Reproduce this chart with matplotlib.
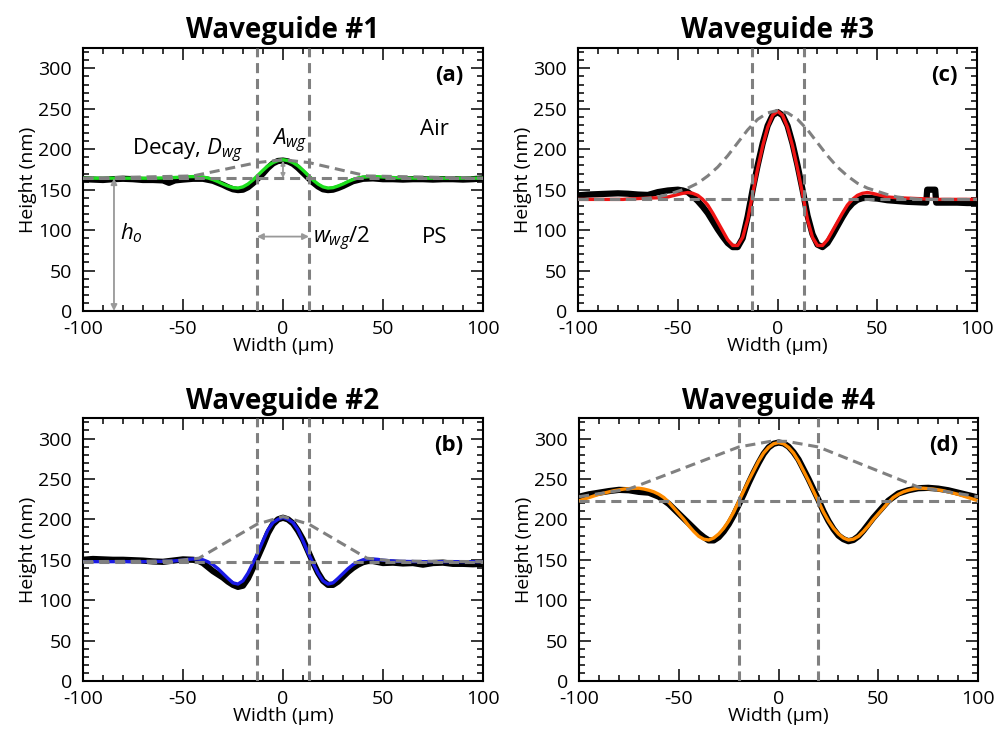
import numpy as np
import matplotlib.pyplot as plt
from matplotlib.ticker import MultipleLocator

plt.rcParams['font.family'] = ['Open Sans', 'DejaVu Sans']
plt.rcParams['mathtext.fontset'] = 'custom'
plt.rcParams['mathtext.rm'] = 'Open Sans'
plt.rcParams['mathtext.it'] = 'Open Sans:italic'
plt.rcParams['axes.unicode_minus'] = False

titles = ['Waveguide #1', 'Waveguide #2', 'Waveguide #3', 'Waveguide #4']
tags = ['(a)', '(b)', '(c)', '(d)']
fit_colors = ['#1ee01e', '#1a1ae6', '#f01414', '#ff8c00']

# flat film thickness h_o (nm) and half width w_wg/2 (um)
baseline = [164.2, 147.7, 138.0, 223.0]
half_width = [13, 13, 13, 20]

# fitted profiles, sampled every 2.5 um from -100 to 100
x_fit = np.linspace(-100, 100, 81)
fit_1 = [164.2] * 14 + [164.3, 164.4, 164.5, 164.7, 165.0, 165.3, 165.7, 166.0, 166.2, 166.0,
                        165.5, 164.5, 162.5, 160.0, 157.0, 154.5, 152.5, 152.0, 153.5, 157.0,
                        162.0, 168.0, 174.0, 179.5, 183.5, 186.0, 187.0, 186.0, 183.5, 179.5,
                        174.0, 168.0, 162.0, 157.0, 153.5, 152.0, 152.5, 154.5, 157.0, 160.0,
                        162.5, 164.5, 165.5, 166.0, 166.2, 166.0, 165.7, 165.3, 165.0, 164.7,
                        164.5, 164.4, 164.3] + [164.2] * 14
fit_2 = [147.7] * 14 + [147.8, 147.9, 148.0, 148.2, 148.5, 149.0, 149.5, 150.5, 151.0, 151.0,
                        150.0, 147.5, 144.0, 139.0, 133.0, 127.0, 121.5, 120.0, 124.0, 133.5,
                        146.0, 159.0, 173.5, 187.0, 196.0, 200.0, 202.5, 200.0, 196.0, 187.0,
                        173.5, 159.0, 146.0, 133.5, 124.0, 120.0, 121.5, 127.0, 133.0, 139.0,
                        144.0, 147.5, 150.0, 151.0, 151.0, 150.5, 149.5, 149.0, 148.5, 148.2,
                        148.0, 147.9, 147.8] + [147.7] * 14
fit_3 = [138.0] * 10 + [138.5, 138.8, 139.0, 139.3, 139.5, 139.8, 140.0, 140.5, 141.0, 142.5,
                        144.0, 145.5, 146.5, 145.5, 143.0, 138.0, 131.0, 121.0, 110.0, 99.0,
                        88.0, 81.0, 81.0, 91.0, 113.0, 145.0, 176.0, 204.0, 227.0, 242.0,
                        247.0, 242.0, 227.0, 204.0, 176.0, 145.0, 113.0, 91.0, 81.0, 81.0,
                        88.0, 99.0, 110.0, 121.0, 131.0, 138.0, 143.0, 145.5, 146.5, 145.5,
                        144.0, 142.5, 141.0, 140.5, 140.0, 139.8, 139.5, 139.3, 139.0, 138.8,
                        138.5] + [138.0] * 10
fit_4 = [223.0, 225.0, 227.0, 229.0, 231.0, 232.5, 234.0, 235.5, 236.5, 237.5,
         238.0, 238.5, 238.5, 237.5, 236.0, 234.0, 231.0, 227.0, 221.0, 214.0,
         207.0, 200.0, 192.0, 185.0, 179.0, 175.5, 174.5, 177.0, 182.0, 189.0,
         198.0, 209.0, 222.0, 235.0, 248.0, 260.0, 272.0, 282.0, 289.0, 293.5,
         295.0,
         293.5, 289.0, 282.0, 272.0, 260.0, 248.0, 235.0, 222.0, 209.0, 198.0,
         189.0, 182.0, 177.0, 174.5, 175.5, 179.0, 185.0, 192.0, 200.0, 207.0,
         214.0, 221.0, 227.0, 231.0, 234.0, 236.0, 237.5, 238.5, 238.5, 238.0,
         237.5, 236.5, 235.5, 234.0, 232.5, 231.0, 229.0, 227.0, 225.0, 223.0]
fits = [fit_1, fit_2, fit_3, fit_4]

# decay envelopes
env_x_1 = [-100, -45, -13, 0, 13, 42, 100]
env_y_1 = [164.2, 167.0, 183.5, 187.0, 183.5, 167.0, 164.2]
env_x_2 = [-100, -55, -42, -13, 0, 13, 42, 55, 100]
env_y_2 = [147.7, 148.5, 152.0, 194.0, 203.5, 194.0, 152.0, 148.5, 147.7]
env_x_3 = np.linspace(-100, 100, 41)
env_y_3 = [138.0] * 6 + [138.5, 139.5, 141.0, 144.0, 148.0, 152.0, 158.0, 167.0, 178.0, 192.0,
                         208.0, 224.0, 237.0, 245.0, 248.0, 245.0, 237.0, 224.0, 208.0, 192.0,
                         178.0, 167.0, 158.0, 152.0, 148.0, 144.0, 141.0, 139.5, 138.5] + [138.0] * 6
env_x_4 = [-100, -75, -20, -4, 4, 20, 70, 100]
env_y_4 = [228.0, 237.5, 289.5, 296.5, 296.5, 289.5, 240.0, 228.0]
envelopes = [(env_x_1, env_y_1), (env_x_2, env_y_2), (env_x_3, env_y_3), (env_x_4, env_y_4)]

# measured surface profiles
meas_x_1 = [-100, -95, -90, -85, -80, -75, -70, -65, -60, -57, -54, -50, -45, -40, -35, -30,
            -27.5, -25, -22.5, -20, -17.5, -15, -12.5, -10, -7.5, -5, -2.5, 0, 2.5, 5, 7.5,
            10, 12.5, 15, 17.5, 20, 22.5, 25, 27.5, 30, 32.5, 35, 40, 45, 50, 55, 60, 65, 70,
            75, 80, 85, 90, 95, 100]
meas_y_1 = [163.0, 162.5, 162.0, 163.0, 163.5, 163.0, 162.0, 162.0, 161.5, 158.5, 161.5, 162.5,
            163.5, 163.5, 161.0, 156.0, 153.0, 150.5, 149.5, 150.0, 153.0, 158.0, 164.0, 170.0,
            177.0, 182.5, 185.5, 186.0, 185.0, 182.0, 177.0, 171.0, 165.0, 159.0, 154.0, 150.5,
            149.5, 150.0, 152.0, 154.5, 157.5, 160.5, 163.5, 164.0, 163.0, 163.0, 162.5, 163.0,
            163.0, 162.5, 163.0, 163.0, 162.5, 163.0, 164.0]
meas_x_2 = [-100, -95, -90, -85, -80, -75, -70, -65, -60, -55, -50, -45, -42.5, -40, -37.5, -35,
            -32.5, -30, -27.5, -25, -22.5, -20, -17.5, -15, -12.5, -10, -7.5, -5, -2.5, 0, 2.5,
            5, 7.5, 10, 12.5, 15, 17.5, 20, 22.5, 25, 27.5, 30, 32.5, 35, 37.5, 40, 42.5, 45,
            50, 55, 60, 65, 70, 75, 80, 85, 90, 95, 100]
meas_y_2 = [150.0, 151.0, 150.5, 150.0, 150.0, 149.5, 149.0, 148.0, 147.5, 149.0, 150.5, 150.0,
            149.0, 146.0, 141.0, 136.0, 132.0, 128.0, 123.0, 119.0, 116.5, 118.0, 127.0, 140.0,
            154.0, 168.0, 183.0, 194.0, 200.0, 202.0, 200.0, 195.0, 186.0, 175.0, 161.0, 147.0,
            134.0, 124.0, 119.0, 119.0, 123.0, 129.0, 135.0, 140.0, 144.0, 147.0, 148.5, 148.5,
            146.0, 146.5, 145.5, 146.0, 144.0, 146.0, 146.5, 145.0, 145.0, 144.5, 145.0]
meas_x_3 = [-100, -95, -90, -85, -80, -75, -70, -65, -60, -55, -50, -47.5, -45, -42.5, -40,
            -37.5, -35, -32.5, -30, -27.5, -25, -22.5, -20, -17.5, -15, -12.5, -10, -7.5, -5,
            -2.5, 0, 2.5, 5, 7.5, 10, 12.5, 15, 17.5, 20, 22.5, 25, 27.5, 30, 32.5, 35, 37.5,
            40, 42.5, 45, 50, 55, 60, 65, 70, 74.5, 75, 79, 79.5, 85, 90, 95, 100]
meas_y_3 = [143.0, 144.0, 144.5, 145.0, 145.5, 145.0, 144.0, 143.5, 147.0, 149.0, 150.0, 149.0,
            147.0, 142.0, 136.0, 129.0, 121.0, 111.0, 101.0, 92.0, 84.0, 79.0, 79.0, 90.0,
            117.0, 150.0, 180.0, 207.0, 229.0, 242.0, 246.0, 242.0, 229.0, 207.0, 180.0, 150.0,
            118.0, 95.0, 82.0, 79.0, 84.0, 94.0, 105.0, 116.0, 126.0, 133.0, 137.5, 139.5,
            140.0, 139.0, 137.0, 136.0, 135.0, 134.5, 134.0, 150.0, 150.0, 134.0, 134.0, 134.0,
            133.5, 133.5]
meas_x_4 = [-100, -95, -90, -85, -80, -75, -70, -65, -60, -55, -50, -45, -40, -37.5, -35, -32.5,
            -30, -27.5, -25, -22.5, -20, -17.5, -15, -12.5, -10, -7.5, -5, -2.5, 0, 2.5, 5,
            7.5, 10, 12.5, 15, 17.5, 20, 22.5, 25, 27.5, 30, 32.5, 35, 37.5, 40, 42.5, 45,
            47.5, 50, 55, 60, 65, 70, 75, 80, 85, 90, 95, 100]
meas_y_4 = [228.0, 231.0, 233.0, 235.0, 236.5, 236.0, 234.0, 233.0, 228.0, 219.0, 207.0, 195.0,
            183.0, 178.0, 174.0, 174.0, 178.0, 185.0, 194.0, 205.0, 218.0, 231.0, 245.0, 258.0,
            270.0, 281.0, 289.0, 293.5, 295.0, 294.0, 290.0, 283.0, 274.0, 262.0, 250.0, 237.0,
            224.0, 210.0, 198.0, 188.0, 180.0, 175.5, 173.0, 174.5, 179.0, 186.0, 194.0, 202.0,
            209.0, 223.0, 232.0, 236.0, 238.5, 239.0, 238.0, 236.0, 233.0, 230.0, 227.0]
measured = [(meas_x_1, meas_y_1), (meas_x_2, meas_y_2), (meas_x_3, meas_y_3), (meas_x_4, meas_y_4)]

gray = '#808080'
dash = (0, (3.3, 1.9))

fig = plt.figure(figsize=(9.95, 7.30), dpi=100)
# panel order: #1 top-left, #2 bottom-left, #3 top-right, #4 bottom-right
rects = [[0.0834, 0.574, 0.402, 0.360], [0.0834, 0.067, 0.402, 0.360],
         [0.581, 0.574, 0.401, 0.360], [0.582, 0.067, 0.401, 0.360]]

axes = []
for i in range(4):
    ax = fig.add_axes(rects[i])
    mx, my = measured[i]
    ax.plot(mx, my, color='black', lw=4.5, solid_joinstyle='round', zorder=2)
    ax.plot(x_fit, fits[i], color=fit_colors[i], lw=2.4, zorder=3)
    ex, ey = envelopes[i]
    ax.plot(ex, ey, color=gray, lw=2.2, linestyle=dash, zorder=4)
    ax.axhline(baseline[i], color=gray, lw=2.2, linestyle=dash, zorder=4)
    for s in (-1, 1):
        ax.axvline(s * half_width[i], color=gray, lw=2.2, linestyle=dash, zorder=4)

    ax.set_xlim(-100, 100)
    ax.set_ylim(0, 325)
    ax.xaxis.set_major_locator(MultipleLocator(50))
    ax.xaxis.set_minor_locator(MultipleLocator(10))
    ax.yaxis.set_major_locator(MultipleLocator(50))
    ax.yaxis.set_minor_locator(MultipleLocator(10))
    ax.tick_params(which='both', direction='in', top=True, right=True, width=1.1,
                   labelsize=14)
    ax.tick_params(which='major', length=8.5)
    ax.tick_params(which='minor', length=4.3)
    ax.tick_params(axis='x', pad=6.5)
    ax.tick_params(axis='y', pad=8)
    for sp in ax.spines.values():
        sp.set_linewidth(1.5)
    ax.set_xlabel('Width (\u00b5m)', fontsize=14, labelpad=-1)
    ax.set_ylabel('Height (nm)', fontsize=14, labelpad=1)
    ax.set_title(titles[i], fontsize=20, fontweight='bold', pad=7)
    ax.text(0.95, 0.895, tags[i], transform=ax.transAxes, ha='right', va='center',
            fontsize=16, fontweight='bold')
    axes.append(ax)

# parameter annotations on waveguide #1
ax = axes[0]
arrow = dict(arrowstyle='<|-|>', color='#999999', lw=1.3, mutation_scale=9,
             shrinkA=0, shrinkB=0)
ax.annotate('', xy=(-84.5, 0), xytext=(-84.5, baseline[0]), arrowprops=arrow, zorder=5)
ax.annotate('', xy=(-half_width[0], 92), xytext=(half_width[0], 92), arrowprops=arrow, zorder=5)
ax.annotate('', xy=(0, baseline[0]), xytext=(0, 186), arrowprops=dict(arrow, mutation_scale=6),
            zorder=5)
ax.text(-75.5, 193, r'Decay, $D_{wg}$', fontsize=16)
ax.text(-5.5, 204.5, r'$A_{wg}$', fontsize=16)
ax.text(-81.5, 88, r'$h_{o}$', fontsize=16)
ax.text(15, 84, r'$w_{wg}$/2', fontsize=16)
ax.text(68.5, 218, 'Air', fontsize=16)
ax.text(69.5, 84, 'PS', fontsize=16)

fig.savefig('out.png', dpi=100)
